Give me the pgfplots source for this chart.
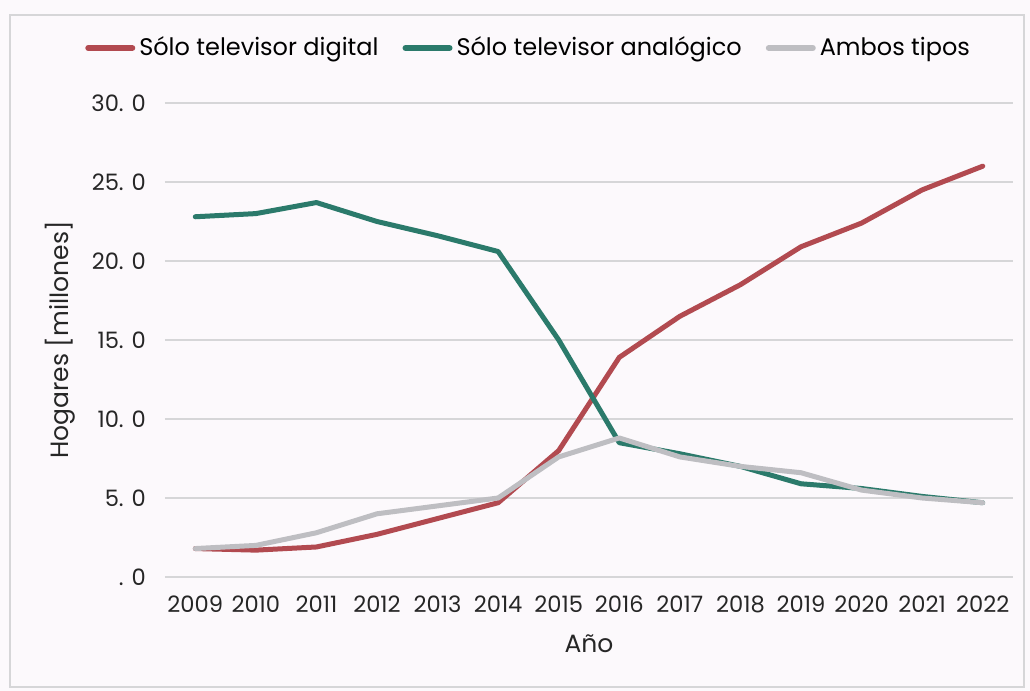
\documentclass[border=0pt]{standalone}
\usepackage{pgfplots}
\pgfplotsset{compat=1.18}
\usepackage{fontspec}
\setmainfont{Poppins}
\definecolor{cdig}{HTML}{B24A50}
\definecolor{cana}{HTML}{2B7A6B}
\definecolor{camb}{HTML}{BEBEC2}
\definecolor{cgrid}{HTML}{D6D6D8}
\definecolor{cbg}{HTML}{FCF9FC}
\begin{document}
\begin{tikzpicture}[x=1pt,y=1pt]
\fill[cbg] (0,0) rectangle (515,345.5);
\useasboundingbox (0,0) rectangle (515,345.5);
\draw[cgrid,line width=0.6pt] (5,2) rectangle (512,338);
\begin{axis}[
  at={(82.5pt,57pt)}, anchor=south west,
  scale only axis, width=424pt, height=237pt,
  xmin=-0.5, xmax=13.5, ymin=0, ymax=30,
  xtick={0,...,13},
  xticklabels={2009,2010,2011,2012,2013,2014,2015,2016,2017,2018,2019,2020,2021,2022},
  ytick={0,5,10,15,20,25,30},
  yticklabels={. 0,5. 0,10. 0,15. 0,20. 0,25. 0,30. 0},
  ymajorgrids, grid style={cgrid,line width=0.6pt},
  axis line style={draw=none}, major tick length=0pt,
  tick label style={font=\fontsize{11.3}{13}\selectfont, text=black!85},
  xticklabel style={yshift=-6pt},
  yticklabel style={xshift=-6pt},
  xlabel={Año}, ylabel={Hogares [millones]},
  label style={font=\fontsize{12.5}{14}\selectfont, text=black!85},
  xlabel style={yshift=-4pt},
  ylabel style={yshift=1pt},
  legend style={at={(0.43,1.116)}, anchor=center, draw=none, fill=none,
    legend columns=3, font=\fontsize{12}{14}\selectfont,
    /tikz/every even column/.append style={column sep=10pt}},
  legend image code/.code={\draw[#1,line width=3pt,line cap=round] (0pt,0pt) -- (22pt,0pt);},
  every axis plot/.append style={line width=2.5pt, line join=round, line cap=round},
]
\addplot[cdig] coordinates {(0,1.8)(1,1.7)(2,1.9)(3,2.7)(4,3.7)(5,4.7)(6,8.0)(7,13.9)(8,16.5)(9,18.5)(10,20.9)(11,22.4)(12,24.5)(13,26.0)};
\addlegendentry{Sólo televisor digital}
\addplot[cana] coordinates {(0,22.8)(1,23.0)(2,23.7)(3,22.5)(4,21.6)(5,20.6)(6,15.0)(7,8.5)(8,7.8)(9,7.0)(10,5.9)(11,5.6)(12,5.1)(13,4.7)};
\addlegendentry{Sólo televisor analógico}
\addplot[camb] coordinates {(0,1.8)(1,2.0)(2,2.8)(3,4.0)(4,4.5)(5,5.0)(6,7.6)(7,8.8)(8,7.6)(9,7.0)(10,6.6)(11,5.5)(12,5.0)(13,4.7)};
\addlegendentry{Ambos tipos}
\end{axis}
\end{tikzpicture}
\end{document}
